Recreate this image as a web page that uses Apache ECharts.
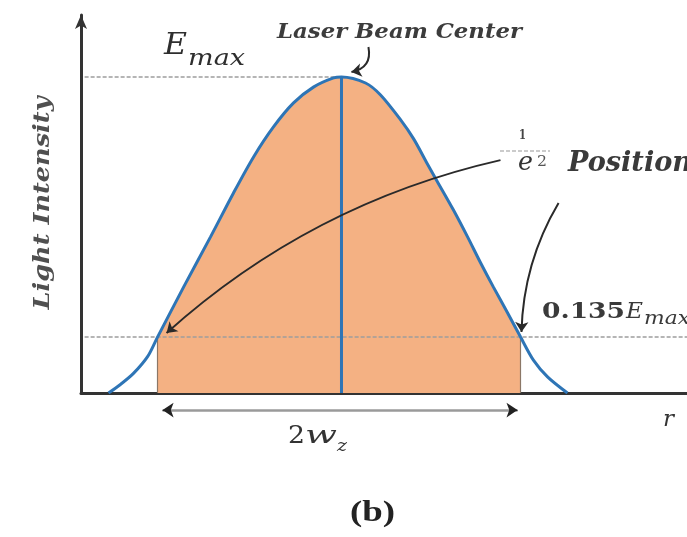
<!DOCTYPE html>
<html><head><meta charset="utf-8">
<script src="https://cdn.jsdelivr.net/npm/echarts@6/dist/echarts.min.js"></script>
<style>html,body{margin:0;padding:0;background:#fff}#c{width:687px;height:537px}</style>
</head><body><div id="c"></div>
<script>
// ---- data (r in units of w_z, intensity in units of E_max)
const radius    = [-1.288,-1.222,-1.150,-1.072,-1.017,-0.873,-0.724,-0.597,-0.486,-0.376,-0.265,-0.155,-0.044,0,0.133,0.216,0.326,0.398,0.475,0.531,0.619,0.697,0.768,0.840,0.917,0.990,1.061,1.139,1.249];
const intensity = [0,0.027,0.062,0.115,0.177,0.335,0.494,0.633,0.747,0.842,0.918,0.968,0.997,1,0.981,0.943,0.865,0.805,0.725,0.668,0.579,0.494,0.413,0.335,0.255,0.177,0.104,0.051,0];
const fillStart = -1.017, fillEnd = 0.990;   // 1/e^2 positions
const emaxLevel = 1;
const lowLevel = 0.177;                      // drawn level of 0.135 E_max
const xMin = -1.44, xMax = 1.91;
// annotation arrows (data units)
const arrowCenter = [[0.149,1.095],[0.055,1.016]];
const arrowLeft   = [[0.879,0.737],[-0.967,0.190]];
const arrowRight  = [[1.200,0.601],[0.995,0.193]];
const widthArrow  = [[-0.989,-0.054],[0.973,-0.054]];

const curve = radius.map((r,i)=>[r,intensity[i]]);
const fillPts = curve.filter(p=>p[0]>=fillStart-1e-9 && p[0]<=fillEnd+1e-9);

const BLUE = '#2E75B6', ORANGE = '#F4B183';
const chart = echarts.init(document.getElementById('c'));
chart.setOption({
  animation:false,
  grid:{left:81,right:0,top:15,bottom:144},
  xAxis:{type:'value',min:xMin,max:xMax,
    axisLine:{show:true,onZero:true,lineStyle:{color:'#333',width:3,cap:'round'}},
    axisTick:{show:false},axisLabel:{show:false},splitLine:{show:false}},
  yAxis:{type:'value',min:0,max:(393-15)/316,
    axisLine:{show:true,onZero:false,symbol:['none','arrow'],symbolSize:[9,14],lineStyle:{color:'#333',width:3,cap:'round'}},
    axisTick:{show:false},axisLabel:{show:false},splitLine:{show:false}},
  series:[
    {type:'line',data:fillPts,symbol:'none',smooth:0.3,lineStyle:{width:0},
     areaStyle:{color:ORANGE,opacity:1},z:1,silent:true},
    {type:'lines',coordinateSystem:'cartesian2d',clip:false,z:2,silent:true,
     lineStyle:{color:'#8b7767',width:1.2,opacity:1},
     data:[{coords:[[fillStart,0],[fillStart,lowLevel]]},{coords:[[fillEnd,0],[fillEnd,lowLevel]]}]},
    {type:'lines',coordinateSystem:'cartesian2d',clip:false,z:3,silent:true,
     lineStyle:{color:'#9d9d9d',width:1.5,type:[4,2],opacity:1},
     data:[{coords:[[-1.42,emaxLevel],[0,emaxLevel]]},{coords:[[-1.42,lowLevel],[xMax,lowLevel]]}]},
    {type:'line',data:[[0,0],[0,emaxLevel]],symbol:'none',lineStyle:{color:BLUE,width:3},z:4,silent:true},
    {type:'line',data:curve,symbol:'none',smooth:0.3,lineStyle:{color:BLUE,width:3},z:5,silent:true},
    {type:'lines',coordinateSystem:'cartesian2d',clip:false,z:6,silent:true,
     symbol:['none','arrow'],symbolSize:10,
     lineStyle:{color:'#2a2a2a',width:2,opacity:1},
     data:[{coords:arrowCenter,lineStyle:{curveness:0.5}},
           {coords:arrowLeft,lineStyle:{curveness:-0.13}},
           {coords:arrowRight,lineStyle:{curveness:-0.13}}]},
    {type:'lines',coordinateSystem:'cartesian2d',clip:false,z:6,silent:true,
     lineStyle:{color:'#9a9a9a',width:2.5,opacity:1},
     data:[{coords:widthArrow}]},
    {type:'lines',coordinateSystem:'cartesian2d',clip:false,z:7,silent:true,
     symbol:['none','arrow'],symbolSize:11,
     lineStyle:{color:'#222',width:1,opacity:1},
     data:[{coords:[[widthArrow[0][0]+0.04,widthArrow[0][1]],widthArrow[0]]},
           {coords:[[widthArrow[1][0]-0.04,widthArrow[1][1]],widthArrow[1]]}]}
  ]
});

// ---- text annotations
const mctx = document.createElement('canvas').getContext('2d');
function T(text, style, size, family, left, baseline, width, color, opts){
  const font = style + ' ' + size + 'px ' + family;
  mctx.font = font;
  const w = mctx.measureText(text).width;
  const sx = width ? width / w : 1;
  return Object.assign({type:'text', x:left, y:baseline - 0.345*size, scaleX:sx, z:100, silent:true,
    style:{text:text, font:font, fill:color||'#3a3a3a', textAlign:'left', textVerticalAlign:'middle'}}, opts||{});
}
const SERIF = '"DejaVu Serif"';
const TIMES = '"Liberation Serif"';
const g = [];
// y axis title (rotated)
(function(){
  const size=23, font='italic 600 '+size+'px '+SERIF; mctx.font=font;
  const w=mctx.measureText('Light Intensity').width;
  g.push({type:'text',x:43,y:203,rotation:Math.PI/2,scaleX:213/w,z:100,silent:true,
    style:{text:'Light Intensity',font:font,fill:'#505050',textAlign:'center',textVerticalAlign:'middle'}});
})();
g.push(T('E','italic',30,SERIF,164,57,23,'#2e2e2e'));
g.push(T('max','italic',23,SERIF,188,67,57,'#2e2e2e'));
g.push(T('Laser Beam Center','italic 600',20,SERIF,277,40,245,'#3c3c3c'));
g.push(T('1','bold',13,SERIF,519,140,7,'#444'));
g.push({type:'line',z:100,silent:true,shape:{x1:500,y1:151,x2:550,y2:151},style:{stroke:'#bbb',lineWidth:1.5,lineDash:[4,2]}});
g.push(T('e','italic',26,SERIF,518,172,15,'#333'));
g.push(T('2','normal',14,SERIF,537,167,10,'#555'));
g.push(T('Position','bold italic',27,SERIF,568,173,124,'#3a3a3a'));
g.push(T('0.135','bold',23,SERIF,542,320,83,'#3a3a3a'));
g.push(T('E','italic',23,SERIF,626,320,17,'#3a3a3a'));
g.push(T('max','italic',18,SERIF,644,326,46,'#3a3a3a'));
g.push(T('2','normal',25,SERIF,288,445,17,'#333'));
g.push(T('w','italic',25,SERIF,305,445,32,'#333'));
g.push(T('z','italic',17,SERIF,337,452,10,'#333'));
g.push(T('r','italic',22,SERIF,663,428,11,'#333'));
g.push(T('(b)','bold',30,TIMES,350,524,45,'#222'));
chart.setOption({graphic:g});
</script></body></html>
